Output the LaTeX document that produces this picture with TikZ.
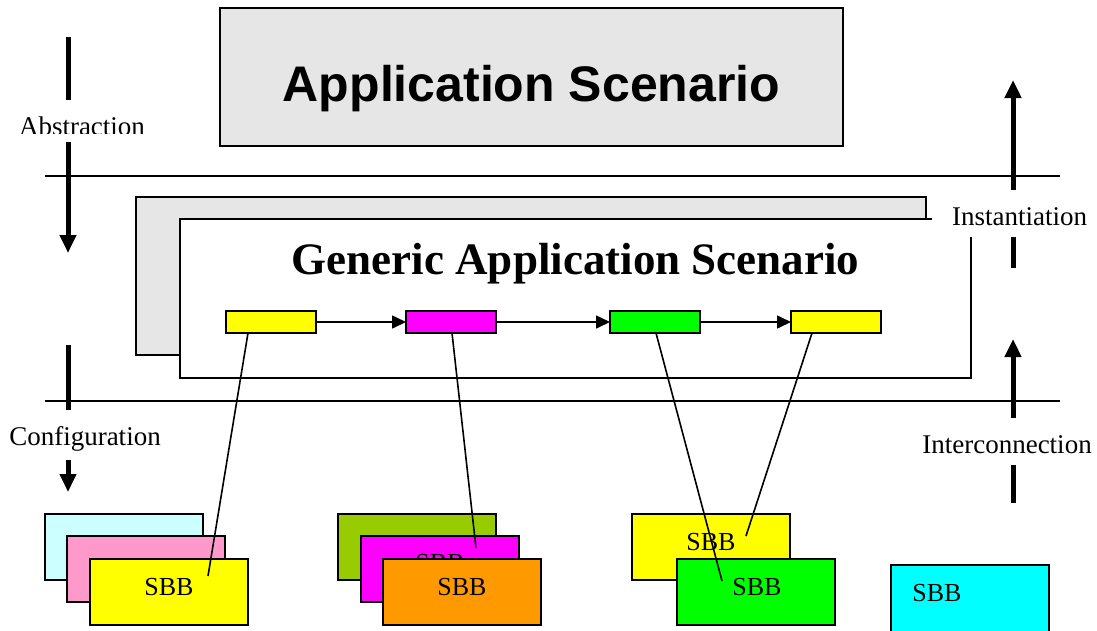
\documentclass[tikz,border=0pt]{standalone}
\usepackage{fontspec}
\setmainfont{Liberation Serif}
\newfontfamily\arialfont{Liberation Sans}
\usetikzlibrary{arrows.meta}
\definecolor{boxgray}{HTML}{E6E6E6}
\definecolor{lcyan}{HTML}{CCFFFF}
\definecolor{lpink}{HTML}{FF99CC}
\definecolor{olive}{HTML}{99CC00}
\definecolor{orng}{HTML}{FF9900}
\definecolor{grn}{HTML}{00FF00}
\definecolor{cyn}{HTML}{00FFFF}
\definecolor{mag}{HTML}{FF00FF}
\definecolor{yel}{HTML}{FFFF00}
\tikzset{
  box/.style={draw=black, line width=1.6pt, anchor=north west, inner sep=0pt, outer sep=0pt},
  sbb/.style={box, line width=2pt, minimum width=158pt, minimum height=66pt},
  step box/.style={box, line width=1.8pt, minimum width=90pt, minimum height=22pt},
  sbblabel/.style={font=\fontsize{26}{26}\selectfont, anchor=base, inner sep=0pt},
  sidelabel/.style={font=\fontsize{27}{27}\selectfont, anchor=base, inner sep=0pt},
  bigarrow/.style={line width=5pt, -{Triangle[length=18pt,width=16pt]}},
  bigseg/.style={line width=5pt},
  flow/.style={line width=1.6pt, -{Triangle[length=14pt,width=13pt]}},
  link/.style={line width=1.6pt},
  hline/.style={line width=1.6pt}
}
\begin{document}
\begin{tikzpicture}[x=1pt,y=-1pt]
\useasboundingbox (0,0) rectangle (1097,630);
% top box
\node[box, fill=boxgray, minimum width=623pt, minimum height=138pt] (app) at (220,8) {};
\node[font=\arialfont\bfseries\fontsize{50}{50}\selectfont, anchor=base, inner sep=0pt] (apptext) at (531.5,101) {Application Scenario};
% horizontal lines
\coordinate (l1a) at (45,176); \coordinate (l1b) at (1060,176);
\coordinate (l2a) at (45,401); \coordinate (l2b) at (1060,401);
\draw[hline] (l1a) -- (l1b);
\draw[hline] (l2a) -- (l2b);
% generic boxes
\node[box, fill=boxgray, minimum width=790pt, minimum height=158pt] (gback) at (136,197) {};
\node[box, fill=white, minimum width=791pt, minimum height=159pt] (gfront) at (180,219) {};
\node[font=\bfseries\fontsize{45}{45}\selectfont, anchor=base, inner sep=0pt] (gtext) at (575.5,274) {Generic Application Scenario};
% steps
\node[step box, fill=yel] (s1) at (226,311) {};
\node[step box, fill=mag] (s2) at (406,311) {};
\node[step box, fill=grn] (s3) at (610,311) {};
\node[step box, fill=yel] (s4) at (791,311) {};
\draw[flow] (s1.east) -- (s2.west);
\draw[flow] (s2.east) -- (s3.west);
\draw[flow] (s3.east) -- (s4.west);
% SBB stacks
\node[sbb, fill=lcyan] (a1) at (45,514) {};
\node[sbb, fill=lpink] (a2) at (67,536) {};
\node[sbb, fill=yel] (a3) at (90,559) {};
\node[sbblabel] (a3t) at (169,595) {SBB};
\node[sbb, fill=olive] (b1) at (338,514) {};
\node[sbb, fill=mag] (b2) at (361,536) {};
\node[sbblabel] (b2t) at (440,571) {SBB};
\node[sbb, fill=orng] (b3) at (383,559) {};
\node[sbblabel] (b3t) at (462,595) {SBB};
\node[sbb, fill=yel] (c1) at (632,514) {};
\node[sbblabel] (c1t) at (711,550) {SBB};
\node[sbb, fill=grn] (c2) at (677,559) {};
\node[sbblabel] (c2t) at (757,595) {SBB};
\node[sbb, fill=cyn, minimum height=70pt] (d1) at (891,565) {};
\node[sbblabel] (d1t) at (937,601) {SBB};
% links
\coordinate (e1) at (208,576);
\coordinate (e2) at (476,548);
\coordinate (e3) at (722,581);
\coordinate (e4) at (746,536);
\draw[link] ([xshift=-23pt]s1.south) -- (e1);
\draw[link] ([xshift=1pt]s2.south) -- (e2);
\draw[link] ([xshift=1pt]s3.south) -- (e3);
\draw[link] ([xshift=-24pt]s4.south) -- (e4);
% left arrows
\coordinate (ab1) at (68,37); \coordinate (ab2) at (68,100);
\coordinate (ab3) at (68,142); \coordinate (ab4) at (68,253);
\draw[bigseg] (ab1) -- (ab2);
\draw[bigarrow] (ab3) -- (ab4);
\begin{scope}
\clip (0,100) rectangle (200,133);
\node[sidelabel] (abst) at (82,135) {Abstraction};
\end{scope}
\coordinate (cf1) at (68,345); \coordinate (cf2) at (68,410);
\coordinate (cf3) at (68,460); \coordinate (cf4) at (68,492);
\draw[bigseg] (cf1) -- (cf2);
\draw[bigarrow] (cf3) -- (cf4);
\node[sidelabel] (conf) at (85,445) {Configuration};
% right arrows
\coordinate (in1) at (1013,190); \coordinate (in2) at (1013,80);
\coordinate (in3) at (1013,237); \coordinate (in4) at (1013,268);
\draw[bigarrow] (in1) -- (in2);
\node[fill=white, anchor=north west, inner sep=0pt, minimum width=163pt, minimum height=45pt] (instbg) at (932,192) {};
\draw[bigseg] (in3) -- (in4);
\node[sidelabel] (inst) at (1019.5,225) {Instantiation};
\coordinate (ic1) at (1013,418); \coordinate (ic2) at (1013,339);
\coordinate (ic3) at (1013,465); \coordinate (ic4) at (1013,503);
\draw[bigarrow] (ic1) -- (ic2);
\draw[bigseg] (ic3) -- (ic4);
\node[sidelabel] (inter) at (1007,453) {Interconnection};
\end{tikzpicture}
\end{document}
